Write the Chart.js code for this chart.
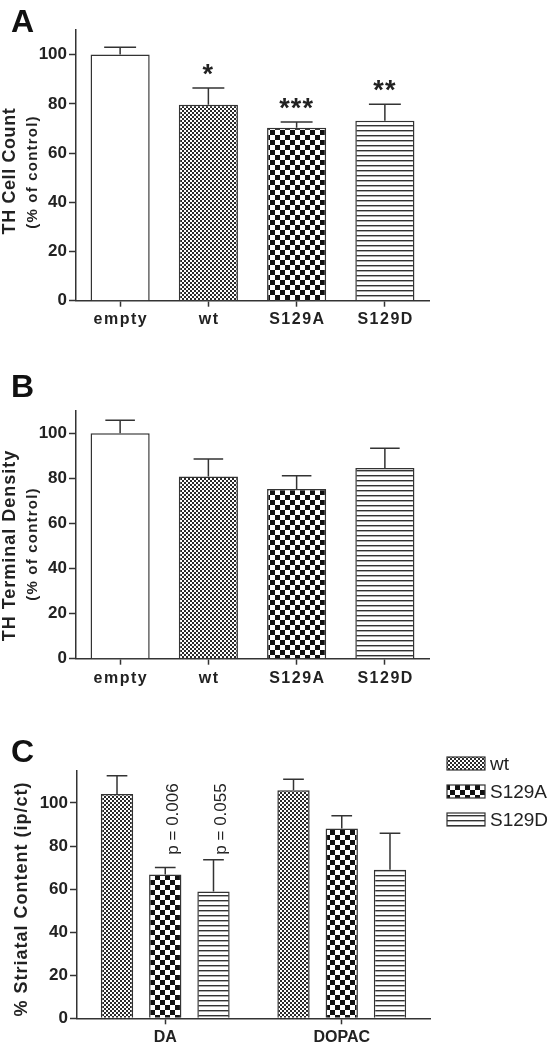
<!DOCTYPE html>
<html><head><meta charset="utf-8">
<script src="https://cdn.jsdelivr.net/npm/chart.js@4.4.1/dist/chart.umd.min.js"></script>
<style>
 body{margin:0;background:#fff;width:550px;height:1050px;position:relative;overflow:hidden}
 canvas{position:absolute;left:0}
</style></head><body>
<canvas id="cA" width="550" height="350" style="top:0"></canvas>
<canvas id="cB" width="550" height="350" style="top:350px"></canvas>
<canvas id="cC" width="550" height="350" style="top:700px"></canvas>
<script>
/* ----- DATA ----- */
const groups=["empty","wt","S129A","S129D"];

const cellMean=[100,79.6,70.3,73.1];
const cellSem=[3,6.8,2.3,6.7];
const cellStars=["","*","***","**"];

const termMean=[100,80.8,75.3,84.6];
const termSem=[5.8,7.8,5.8,8.7];

const analytes=["DA","DOPAC"];
const series=["wt","S129A","S129D"];
const wtMean=[104.2,105.9];
const wtSem=[8.5,5.1];
const aMean=[66.8,88.2];
const aSem=[3.2,5.9];
const dMean=[58.9,69.0];
const dSem=[14.7,16.9];
const aNotes=["p = 0.006",""];
const dNotes=["p = 0.055",""];

const FONT='"Liberation Sans", Arial, sans-serif';
Chart.defaults.font.family=FONT;

/* ----- PATTERNS ----- */
function checker(size,dark){
 const c=document.createElement('canvas');
 c.width=c.height=size*2;
 const g=c.getContext('2d');
 g.fillStyle='#fff';g.fillRect(0,0,size*2,size*2);
 g.fillStyle=dark;
 g.fillRect(0,0,size,size);g.fillRect(size,size,size,size);
 return g.createPattern(c,'repeat');
}
function stripes(){
 const c=document.createElement('canvas');
 c.width=4;c.height=5;
 const g=c.getContext('2d');
 g.fillStyle='#fff';g.fillRect(0,0,4,5);
 g.fillStyle='#333';g.fillRect(0,0,4,1);
 g.fillStyle='#aaa';g.fillRect(0,1,4,1);
 return g.createPattern(c,'repeat');
}
const patWt=checker(2,'#2a2a2a');
const patA=checker(5,'#111');
const patD=stripes();

/* ----- DECORATION PLUGIN ----- */
const deco={
 id:'deco',
 afterDatasetsDraw(chart,args,o){
  const ctx=chart.ctx, y=chart.scales.y;
  ctx.save();
  ctx.strokeStyle='#333';ctx.lineWidth=1.5;ctx.fillStyle='#222';
  chart.data.datasets.forEach((ds,di)=>{
   const meta=chart.getDatasetMeta(di);
   meta.data.forEach((bar,i)=>{
    const top=y.getPixelForValue(ds.data[i]+ds.sem[i]);
    const half=bar.width*o.cap;
    ctx.beginPath();
    ctx.moveTo(bar.x,bar.y);ctx.lineTo(bar.x,top);
    ctx.moveTo(bar.x-half,top);ctx.lineTo(bar.x+half,top);
    ctx.stroke();
    if(ds.stars&&ds.stars[i]){
     ctx.font='bold 27px '+FONT;
     ctx.letterSpacing='1px';
     ctx.textAlign='center';ctx.textBaseline='alphabetic';
     ctx.fillText(ds.stars[i],bar.x,top-5);
     ctx.letterSpacing='0px';
    }
    if(ds.notes&&ds.notes[i]){
     ctx.save();
     ctx.translate(bar.x+8,y.getPixelForValue(o.noteBase));
     ctx.rotate(-Math.PI/2);
     ctx.font='17px '+FONT;
     ctx.textAlign='left';ctx.textBaseline='middle';
     ctx.fillText(ds.notes[i],0,0);
     ctx.restore();
    }
   });
  });
  ctx.restore();
 },
 afterDraw(chart,args,o){
  const ctx=chart.ctx, x=chart.scales.x;
  ctx.save();
  ctx.fillStyle='#111';
  ctx.font='bold 32px '+FONT;
  ctx.textAlign='left';ctx.textBaseline='alphabetic';
  ctx.fillText(o.letter,11,o.letterY);

  // category labels, spaced like the original
  ctx.fillStyle='#222';
  ctx.font='bold '+o.xSize+'px '+FONT;
  ctx.letterSpacing=o.xLs+'px';
  ctx.textAlign='center';ctx.textBaseline='middle';
  chart.data.labels.forEach((l,i)=>{
   ctx.fillText(l,x.getPixelForValue(i)+o.xLs/2,o.xY);
  });
  ctx.letterSpacing='0px';

  o.titles.forEach(t=>{
   ctx.save();
   ctx.translate(t.x,t.y);ctx.rotate(-Math.PI/2);
   ctx.font='bold '+t.size+'px '+FONT;
   ctx.letterSpacing=t.ls+'px';
   ctx.textAlign='center';ctx.textBaseline='middle';
   ctx.fillStyle='#222';
   ctx.fillText(t.text,0,0);
   ctx.restore();
  });
  if(o.legend){
   chart.data.datasets.forEach((ds,i)=>{
    const ly=57+28*i;
    ctx.fillStyle=ds.backgroundColor;
    ctx.fillRect(447,ly,38,13);
    ctx.strokeStyle='#333';ctx.lineWidth=1.2;
    ctx.strokeRect(447,ly,38,13);
    ctx.fillStyle='#222';
    ctx.font='19px '+FONT;
    ctx.textAlign='left';ctx.textBaseline='middle';
    ctx.fillText(ds.label,490,ly+7.5);
   });
  }
  ctx.restore();
 }
};

/* ----- CHART ----- */
function makeChart(canvas,labels,datasets,c){
 return new Chart(canvas,{
  type:'bar',
  data:{labels,datasets},
  plugins:[deco],
  options:{
   responsive:false,
   animation:false,
   layout:{padding:{top:c.top,right:c.right,left:0,bottom:0}},
   datasets:{bar:{categoryPercentage:c.cat,barPercentage:c.bar,borderColor:'#333',borderWidth:1.5}},
   plugins:{
    legend:{display:false},
    tooltip:{enabled:false},
    deco:{cap:c.cap,letter:c.letter,letterY:c.letterY,titles:c.titles,legend:c.legend,
     noteBase:c.noteBase,xSize:c.xSize,xLs:c.xLs,xY:c.xY}
   },
   scales:{
    x:{
     grid:{offset:false,drawOnChartArea:false,tickLength:6,tickColor:'#333',tickWidth:1.5},
     border:{color:'#333',width:1.5},
     ticks:{color:'rgba(0,0,0,0)',font:{size:c.xSize,weight:'bold'}},
     afterFit:s=>{s.height=350-c.bottom;}
    },
    y:{
     min:0,max:c.max,
     grid:{drawOnChartArea:false,tickLength:7,tickColor:'#333',tickWidth:1.5},
     border:{color:'#333',width:1.5},
     ticks:{stepSize:20,includeBounds:false,color:'#222',font:{size:17,weight:'bold'},padding:2},
     afterFit:s=>{s.width=c.left;}
    }
   }
  }
 });
}

makeChart(cA,groups,[{
 label:'TH Cell Count',data:cellMean,sem:cellSem,stars:cellStars,
 backgroundColor:['#fff',patWt,patA,patD]
}],{
 top:30,bottom:300.7,left:76,right:121,max:110,cat:1,bar:0.67,cap:0.27,
 xSize:16,xLs:1.5,xY:320,letter:'A',letterY:32,
 titles:[
  {text:'TH Cell Count',x:10,y:171,size:18,ls:0.6},
  {text:'(% of control)',x:33,y:172,size:15,ls:1.2}
 ]
});

makeChart(cB,groups,[{
 label:'TH Terminal Density',data:termMean,sem:termSem,
 backgroundColor:['#fff',patWt,patA,patD]
}],{
 top:60.7,bottom:308.7,left:76,right:121,max:110,cat:1,bar:0.67,cap:0.25,
 xSize:16,xLs:1.5,xY:328.5,letter:'B',letterY:47,
 titles:[
  {text:'TH Terminal Density',x:10,y:195.5,size:18,ls:1},
  {text:'(% of control)',x:33,y:194,size:15,ls:1.2}
 ]
});

makeChart(cC,analytes,[
 {label:series[0],data:wtMean,sem:wtSem,backgroundColor:patWt},
 {label:series[1],data:aMean,sem:aSem,notes:aNotes,backgroundColor:patA},
 {label:series[2],data:dMean,sem:dSem,notes:dNotes,backgroundColor:patD}
],{
 top:70.7,bottom:318.3,left:77,right:120,max:115,cat:0.82,bar:0.67,cap:0.32,
 xSize:16,xLs:0,xY:338,letter:'C',letterY:62,legend:true,noteBase:76,
 titles:[
  {text:'% Striatal Content (ip/ct)',x:22,y:199,size:18,ls:1}
 ]
});
</script>
</body></html>
